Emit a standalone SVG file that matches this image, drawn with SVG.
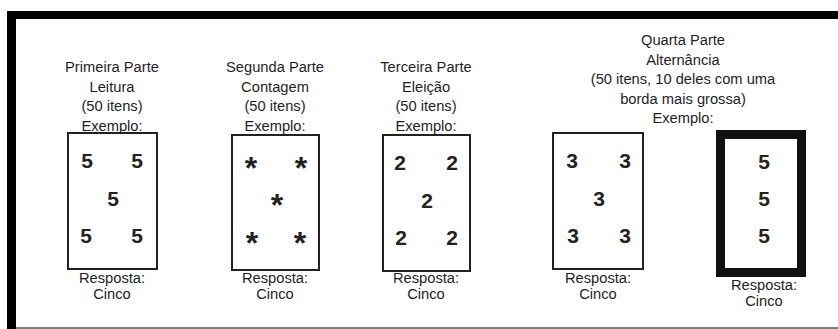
<svg xmlns="http://www.w3.org/2000/svg" width="838" height="329" viewBox="0 0 838 329">
<style>
.t{font-family:"Liberation Sans",Arial,sans-serif;font-size:14.7px;fill:#1e1e26;text-anchor:middle}
.d{font-family:"Liberation Sans",Arial,sans-serif;font-size:21px;font-weight:bold;fill:#222;text-anchor:middle}
.a{font-family:"Liberation Sans",Arial,sans-serif;font-size:32px;font-weight:bold;fill:#222;text-anchor:middle}
.box{fill:#fff;stroke:#222;stroke-width:2}
.thick{fill:#fff;stroke:#111;stroke-width:9}
</style>
<rect width="838" height="329" fill="#fff"/>
<g id="frame">
<rect x="7" y="11" width="831" height="8" fill="#000"/>
<rect x="7" y="11" width="9" height="318" fill="#000"/>
<line x1="16" y1="328" x2="838" y2="328" stroke="#555" stroke-width="1.5"/>
</g>
<g id="part1">
<text class="t" x="112" y="72">Primeira Parte</text>
<text class="t" x="112" y="92">Leitura</text>
<text class="t" x="112" y="111">(50 itens)</text>
<text class="t" x="112" y="131">Exemplo:</text>
<rect class="box" x="68" y="133" width="89" height="136"/>
<text class="d" x="87" y="167.5">5</text>
<text class="d" x="137" y="167.5">5</text>
<text class="d" x="113" y="205.5">5</text>
<text class="d" x="86" y="242.5">5</text>
<text class="d" x="137" y="242.5">5</text>
<text class="t" x="112" y="283">Resposta:</text>
<text class="t" x="112" y="299">Cinco</text>
</g>
<g id="part2">
<text class="t" x="275" y="72">Segunda Parte</text>
<text class="t" x="275" y="92">Contagem</text>
<text class="t" x="275" y="111">(50 itens)</text>
<text class="t" x="275" y="131">Exemplo:</text>
<rect class="box" x="232" y="135" width="87" height="135"/>
<text class="a" x="251" y="179">*</text>
<text class="a" x="301" y="179">*</text>
<text class="a" x="277" y="216">*</text>
<text class="a" x="252" y="254">*</text>
<text class="a" x="300" y="254">*</text>
<text class="t" x="275" y="283">Resposta:</text>
<text class="t" x="275" y="299">Cinco</text>
</g>
<g id="part3">
<text class="t" x="426" y="72">Terceira Parte</text>
<text class="t" x="426" y="92">Eleição</text>
<text class="t" x="426" y="111">(50 itens)</text>
<text class="t" x="426" y="131">Exemplo:</text>
<rect class="box" x="383" y="135" width="87" height="136"/>
<text class="d" x="400" y="169.5">2</text>
<text class="d" x="452" y="169.5">2</text>
<text class="d" x="427" y="207.5">2</text>
<text class="d" x="401" y="244.5">2</text>
<text class="d" x="452" y="244.5">2</text>
<text class="t" x="426" y="283">Resposta:</text>
<text class="t" x="426" y="299">Cinco</text>
</g>
<g id="part4">
<text class="t" x="683" y="45">Quarta Parte</text>
<text class="t" x="683" y="64.5">Alternância</text>
<text class="t" x="683" y="84">(50 itens, 10 deles com uma</text>
<text class="t" x="683" y="104">borda mais grossa)</text>
<text class="t" x="683" y="123">Exemplo:</text>
</g>
<g id="part4-normal">
<rect class="box" x="553" y="133" width="90" height="136"/>
<text class="d" x="572" y="167.5">3</text>
<text class="d" x="625" y="167.5">3</text>
<text class="d" x="599" y="205.5">3</text>
<text class="d" x="573" y="242.5">3</text>
<text class="d" x="625" y="242.5">3</text>
<text class="t" x="598" y="283">Resposta:</text>
<text class="t" x="598" y="299">Cinco</text>
</g>
<g id="part4-thick">
<rect class="thick" x="720.5" y="134.5" width="81" height="138"/>
<text class="d" x="764" y="168.5">5</text>
<text class="d" x="764" y="205.5">5</text>
<text class="d" x="764" y="242.5">5</text>
<text class="t" x="764" y="290">Resposta:</text>
<text class="t" x="764" y="306">Cinco</text>
</g>
</svg>
